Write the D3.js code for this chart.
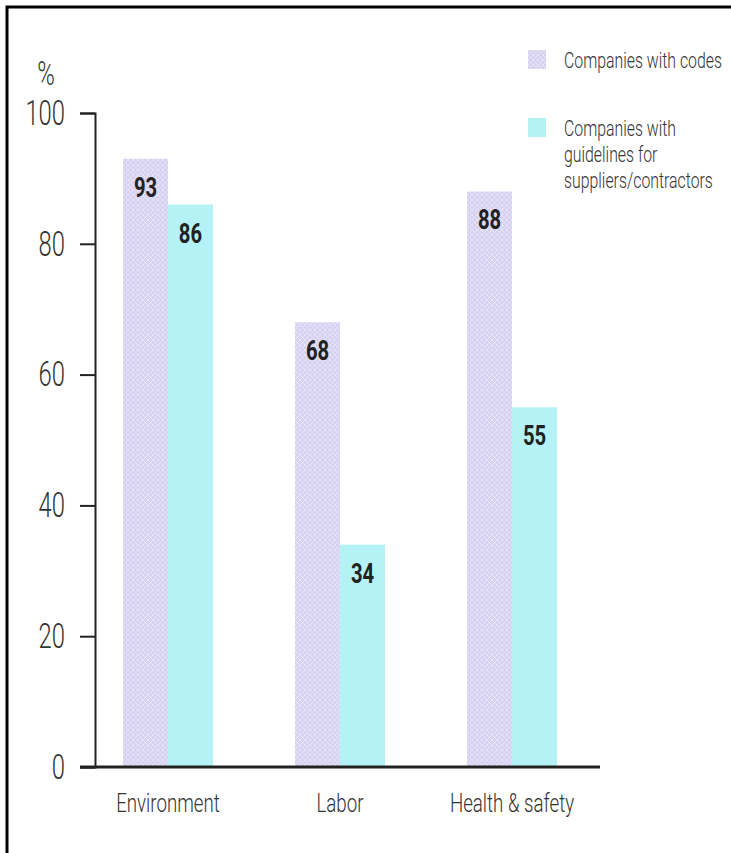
<!DOCTYPE html>
<html lang="en">
<head>
  <meta charset="UTF-8">
  <title>Codes and guidelines</title>
  <script src="https://cdn.jsdelivr.net/npm/d3@7"></script>
  <style>
    body { margin: 0; background: #fff; }
    text { font-family: Roboto, 'Liberation Sans', sans-serif; }
  </style>
</head>
<body>

<script>
  var categories = ['Environment', 'Labor', 'Health & safety'];
  var seriesKeys = ['codes', 'guidelines'];
  var codes = [93, 68, 88];
  var guidelines = [86, 34, 55];
  var yTicks = [0, 20, 40, 60, 80, 100];
  var legendLines = [
    ['Companies with codes'],
    ['Companies with', 'guidelines for', 'suppliers/contractors']
  ];

  var W = 731, H = 853;
  var svg = d3.select('body').append('svg').attr('width', W).attr('height', H);

  // condensed look: no narrow font installed, so squeeze horizontally
  function squeeze(sel, x, y, sx){
    sel.attr('x', 0).attr('y', 0)
      .attr('transform', function(d, i){
        var xx = typeof x === 'function' ? x(d, i) : x;
        var yy = typeof y === 'function' ? y(d, i) : y;
        return 'translate(' + xx + ',' + yy + ') scale(' + sx + ',1)';
      });
    return sel;
  }

  // hatch for the purple bars
  var defs = svg.append('defs');
  var pat = defs.append('pattern')
    .attr('id', 'hatch')
    .attr('width', 5).attr('height', 5)
    .attr('patternUnits', 'userSpaceOnUse');
  pat.append('rect').attr('width', 5).attr('height', 5).attr('fill', '#d6d0f1');
  pat.append('path').attr('d', 'M0,0L5,5M5,0L0,5')
    .attr('stroke', '#e8e4f8').attr('stroke-width', 1);

  var fills = { codes: 'url(#hatch)', guidelines: '#b4f2f5' };

  // frame
  svg.append('path')
    .attr('d', 'M7,' + H + 'V7H' + W)
    .attr('fill', 'none').attr('stroke', '#000').attr('stroke-width', 3);

  var x = d3.scaleBand().domain(categories).range([80, 600])
    .paddingInner(0.477).paddingOuter(0.25);
  var xs = d3.scaleBand().domain(seriesKeys).range([0, x.bandwidth()]);
  var y = d3.scaleLinear().domain([0, 100]).range([767, 113]);

  var rows = categories.map(function(c, i){
    return { cat: c, codes: codes[i], guidelines: guidelines[i] };
  });

  var groups = svg.selectAll('g.grp').data(rows).enter().append('g')
    .attr('class', 'grp')
    .attr('transform', function(d){ return 'translate(' + x(d.cat) + ',0)'; });

  var bars = groups.selectAll('g.bar').data(function(d){
    return seriesKeys.map(function(k){ return { key: k, v: d[k] }; });
  }).enter().append('g').attr('class', 'bar');

  bars.append('rect')
    .attr('x', function(d){ return xs(d.key); })
    .attr('width', xs.bandwidth())
    .attr('y', function(d){ return y(d.v); })
    .attr('height', function(d){ return y(0) - y(d.v); })
    .attr('fill', function(d){ return fills[d.key]; });

  squeeze(bars.append('text'),
      function(d){ return xs(d.key) + xs.bandwidth() / 2; },
      function(d){ return y(d.v) + 38; }, 0.75)
    .attr('text-anchor', 'middle')
    .attr('font-size', 27)
    .attr('font-weight', 'bold')
    .attr('fill', '#222')
    .text(function(d){ return d.v; });

  // y axis
  var yAxis = d3.axisLeft(y).tickValues(yTicks).tickSize(15).tickPadding(14);
  var ga = svg.append('g').attr('transform', 'translate(95,0)').call(yAxis);
  ga.select('.domain').attr('stroke', '#222').attr('stroke-width', 2);
  ga.selectAll('.tick line').attr('stroke', '#222').attr('stroke-width', 2);
  ga.selectAll('.tick text')
    .attr('x', -30 / 0.68)
    .attr('transform', 'scale(0.68,1)')
    .attr('font-size', 35)
    .attr('font-weight', 300)
    .attr('fill', '#333')
    .style('font-family', "Roboto, 'Liberation Sans', sans-serif");

  squeeze(svg.append('text'), 46, 85, 0.72)
    .attr('text-anchor', 'middle')
    .attr('font-size', 33)
    .attr('font-weight', 300)
    .attr('fill', '#333')
    .text('%');

  // baseline
  svg.append('line')
    .attr('x1', 80).attr('x2', 600)
    .attr('y1', y(0)).attr('y2', y(0))
    .attr('stroke', '#222').attr('stroke-width', 3);

  // category labels
  squeeze(svg.selectAll('text.cat').data(categories).enter().append('text'),
      function(d){ return x(d) + x.bandwidth() / 2; }, 812, 0.72)
    .attr('class', 'cat')
    .attr('text-anchor', 'middle')
    .attr('font-size', 26)
    .attr('font-weight', 300)
    .attr('fill', '#333')
    .text(function(d){ return d; });

  // legend
  var leg = svg.selectAll('g.leg').data(seriesKeys).enter().append('g')
    .attr('class', 'leg')
    .attr('transform', function(d, i){ return 'translate(528,' + (50 + i * 68) + ')'; });
  leg.append('rect')
    .attr('width', 18).attr('height', 19)
    .attr('fill', function(d){ return fills[d]; });
  squeeze(leg.selectAll('text').data(function(d, i){ return legendLines[i]; })
      .enter().append('text'),
      36, function(d, j){ return 18 + j * 26; }, 0.72)
    .attr('font-size', 22)
    .attr('font-weight', 300)
    .attr('fill', '#333')
    .text(function(d){ return d; });
</script>

</body>
</html>
